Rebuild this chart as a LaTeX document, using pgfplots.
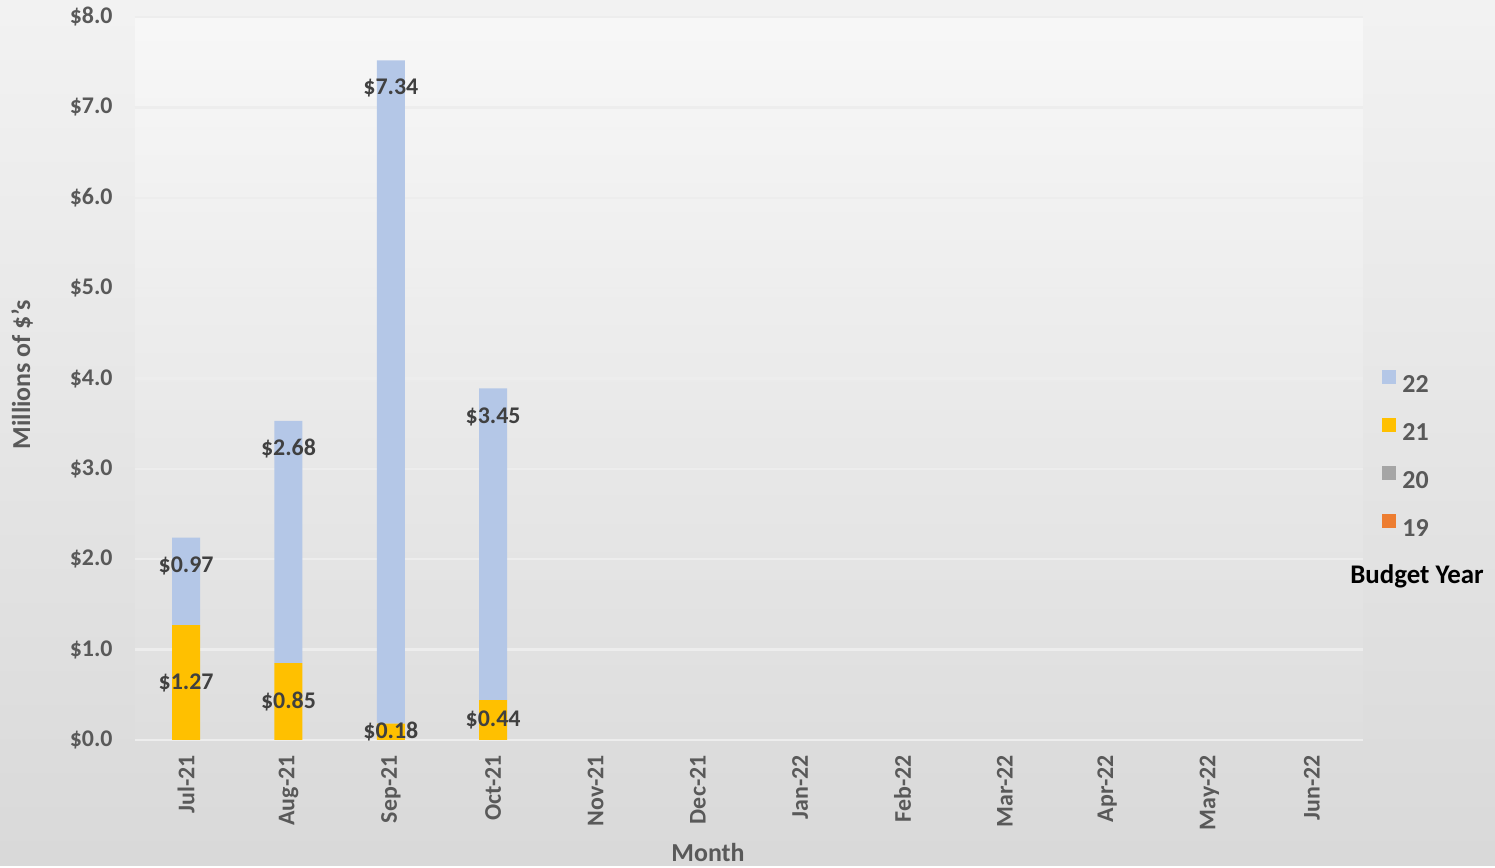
\documentclass[border=0pt]{standalone}
\usepackage{pgfplots}
\pgfplotsset{compat=1.18}
\usepackage{pgfplotstable}
\usepackage{fontspec}
\setmainfont{Carlito}

\definecolor{fy22}{HTML}{B4C7E7}
\definecolor{fy21}{HTML}{FFC000}
\definecolor{fy20}{HTML}{A5A5A5}
\definecolor{fy19}{HTML}{ED7D31}
\definecolor{txt}{HTML}{595959}
\definecolor{lbl}{HTML}{404040}
\definecolor{gridc}{HTML}{EDEDED}

\newcommand\tickfont{\fontsize{12}{14}\selectfont\bfseries}
\newcommand\titlefont{\fontsize{13}{15}\selectfont\bfseries}

% spending per month, millions of dollars, by budget year
\pgfplotstableread{
m   y19 y20 y21  y22
0   0   0   1.27 0.97
1   0   0   0.85 2.68
2   0   0   0.18 7.34
3   0   0   0.44 3.45
}\spend

\begin{document}
\begin{tikzpicture}
\shade[top color=white!95!black, bottom color=white!85!black]
  (-67.5bp,-63bp) rectangle (680bp,370bp);
\begin{axis}[
    scale only axis, clip=false,
    width=614bp, height=361.5bp,
    ybar stacked, bar width=14bp,
    xmin=-0.5, xmax=11.5, ymin=0, ymax=8,
    axis background/.style={top color=white!97!black, bottom color=white!87!black},
    axis line style={draw=none},
    tick style={draw=none},
    ymajorgrids, major grid style={gridc, line width=1.2bp},
    xtick={0,...,11},
    xticklabels={Jul-21,Aug-21,Sep-21,Oct-21,Nov-21,Dec-21,Jan-22,Feb-22,Mar-22,Apr-22,May-22,Jun-22},
    ytick={0,...,8},
    /pgf/number format/assume math mode=true,
    yticklabel={\$\pgfmathprintnumber[fixed,fixed zerofill,precision=1]{\tick}},
    ticklabel style={font=\tickfont, text=txt},
    yticklabel style={inner sep=0pt, xshift=-11bp},
    xticklabel style={rotate=90, anchor=east, inner xsep=7.5bp, inner ysep=0pt},
    xlabel={Month}, ylabel={Millions of \$'s},
    label style={font=\titlefont, text=txt},
    xlabel style={at={(axis description cs:0.4666,-0.155)}, anchor=center},
    ylabel style={at={(axis description cs:-0.092,0.505)}, anchor=center},
    every axis plot post/.append style={
      legend image code/.code={\fill[##1] (0bp,0.5bp) rectangle (7bp,7.5bp);}},
    legend style={at={(axis description cs:1.0155,0.512)}, anchor=north west,
      draw=none, fill=none, inner sep=0pt, row sep=11.5bp,
      font=\titlefont, text=txt, nodes={inner xsep=3bp, inner ysep=0pt}},
    legend cell align=left,
    reverse legend,
    % labels sit mid-segment; move them by a fraction of the segment plus an offset
    every node near coord/.style={font=\tickfont, text=lbl, anchor=center,
      shift={(axis direction cs:0,-\labfrac*\rawy)}, yshift=\labgap},
  ]
  \addplot[fill=fy19, draw=none] table[x=m, y=y19] {\spend};
  \addplot[fill=fy20, draw=none] table[x=m, y=y20] {\spend};
  \addplot[fill=fy21, draw=none,
    point meta=rawy,
    visualization depends on={rawy \as \rawy},
    visualization depends on={value 0 \as \labfrac},
    visualization depends on={value 0bp \as \labgap},
    nodes near coords={\$\pgfmathprintnumber[fixed,fixed zerofill,precision=2]{\pgfplotspointmeta}},
  ] table[x=m, y=y21] {\spend};
  \addplot[fill=fy22, draw=none,
    point meta=rawy,
    visualization depends on={rawy \as \rawy},
    visualization depends on={value -0.5 \as \labfrac},
    visualization depends on={value -14bp \as \labgap},
    nodes near coords={\$\pgfmathprintnumber[fixed,fixed zerofill,precision=2]{\pgfplotspointmeta}},
  ] table[x=m, y=y22] {\spend};
  \legend{19,20,21,22}
  \node[font=\fontsize{13.5}{16}\selectfont\bfseries, text=black, anchor=center]
    at (axis description cs:1.044,0.2268) {Budget Year};
\end{axis}
\end{tikzpicture}
\end{document}
